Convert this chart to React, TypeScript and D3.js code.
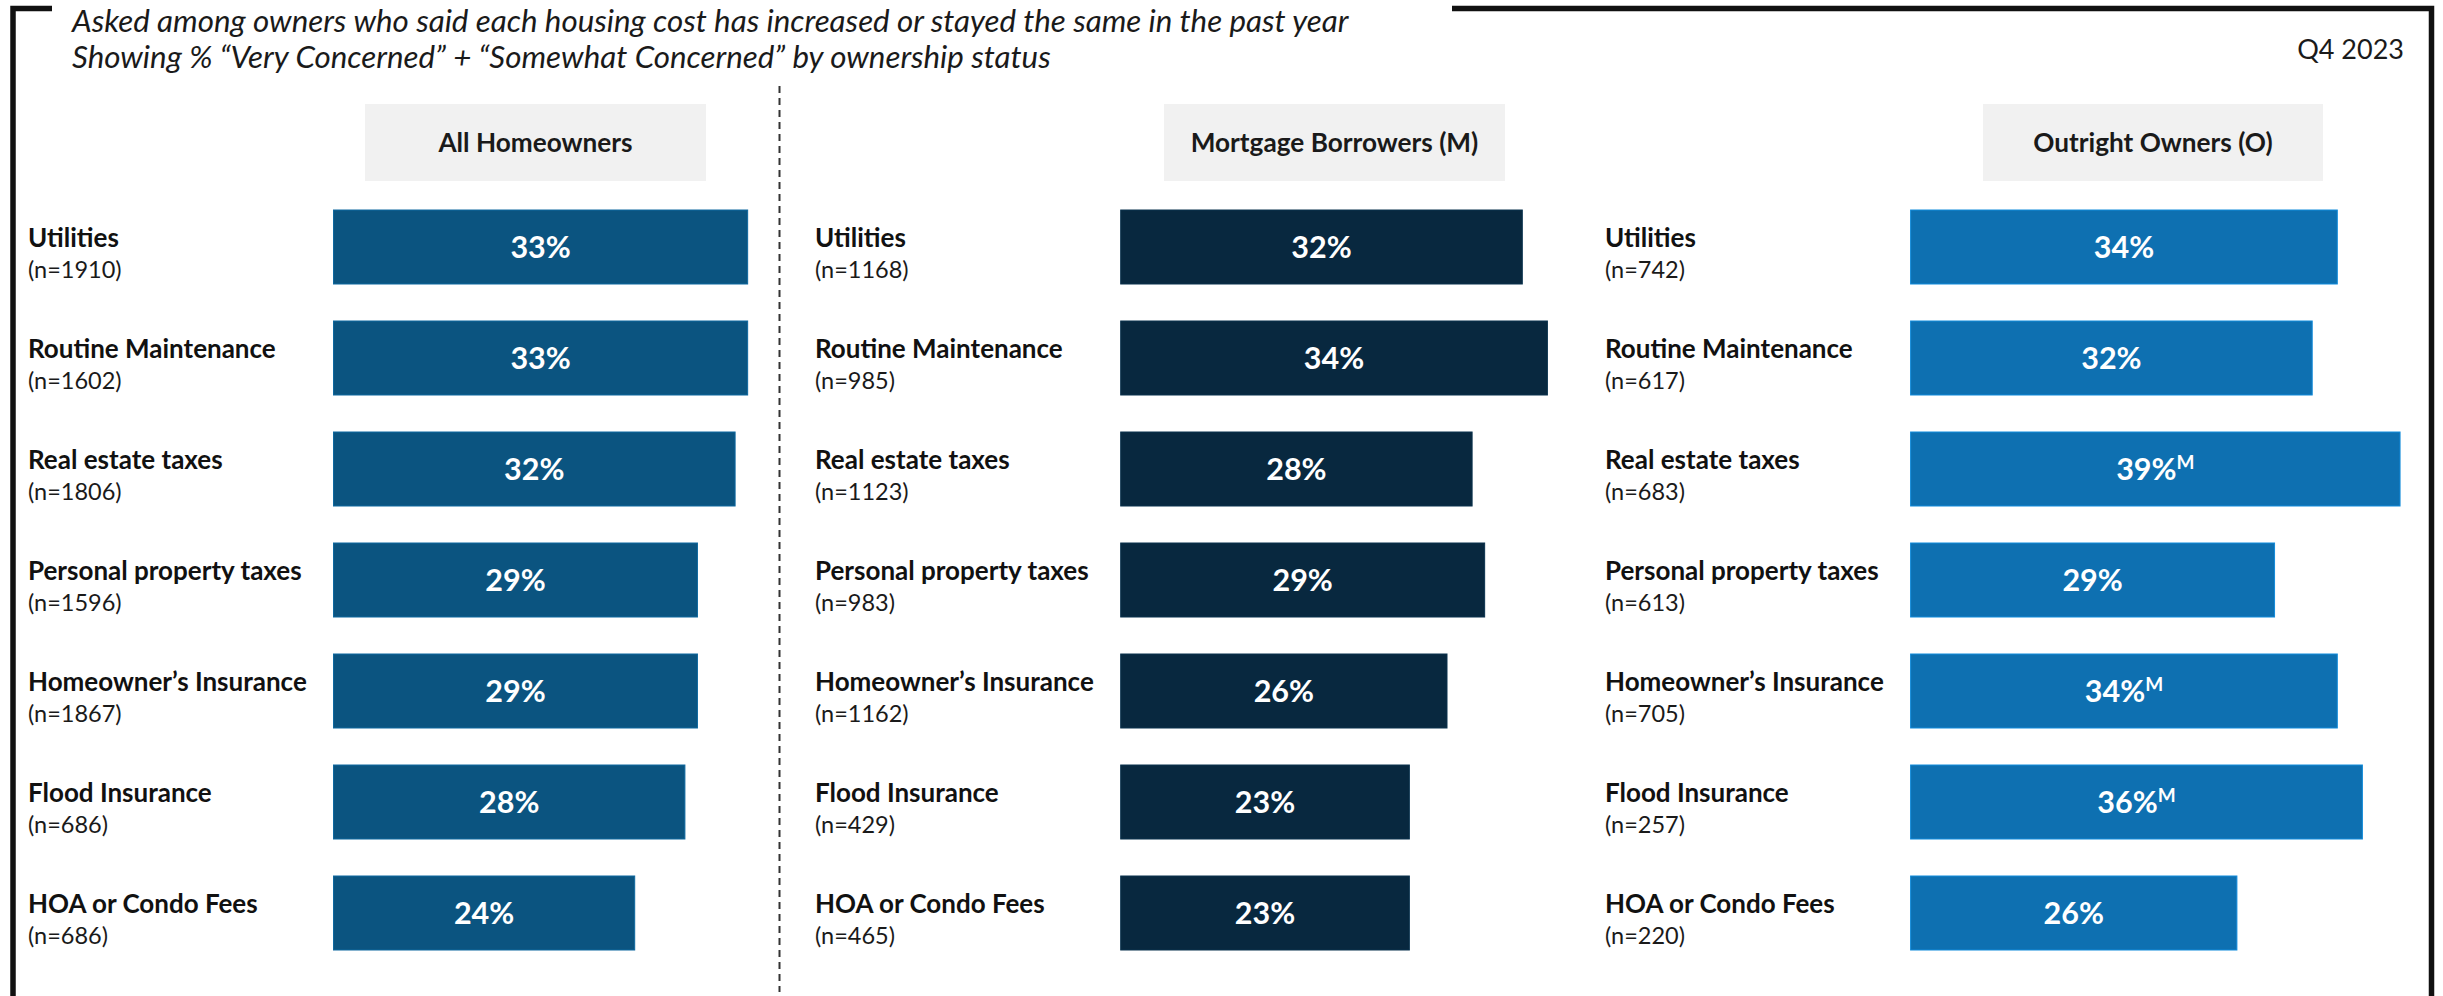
import React from "react";
import * as d3 from "d3";

const categories = [
  "Utilities",
  "Routine Maintenance",
  "Real estate taxes",
  "Personal property taxes",
  "Homeowner\u2019s Insurance",
  "Flood Insurance",
  "HOA or Condo Fees",
];

const panelTitles = ["All Homeowners", "Mortgage Borrowers (M)", "Outright Owners (O)"];

const allValues = [33, 33, 32, 29, 29, 28, 24];
const allN = [1910, 1602, 1806, 1596, 1867, 686, 686];

const mortgageValues = [32, 34, 28, 29, 26, 23, 23];
const mortgageN = [1168, 985, 1123, 983, 1162, 429, 465];

const outrightValues = [34, 32, 39, 29, 34, 36, 26];
const outrightN = [742, 617, 683, 613, 705, 257, 220];
const outrightSig = ["", "", "M", "", "M", "M", ""];

const titleLines = [
  "Asked among owners who said each housing cost has increased or stayed the same in the past year",
  "Showing % \u201cVery Concerned\u201d + \u201cSomewhat Concerned\u201d by ownership status",
];
const periodLabel = "Q4 2023";

const W = 2443;
const H = 996;
const FONT = "Lato, 'Noto Sans', sans-serif";

const panels = [
  { title: panelTitles[0], values: allValues, ns: allN, sig: allValues.map(() => ""), color: "#0b5480", labelX: 28, barX: 333.5, boxX: 365, boxW: 341 },
  { title: panelTitles[1], values: mortgageValues, ns: mortgageN, sig: mortgageValues.map(() => ""), color: "#08283f", labelX: 815, barX: 1120.7, boxX: 1164, boxW: 341 },
  { title: panelTitles[2], values: outrightValues, ns: outrightN, sig: outrightSig, color: "#0e70b1", labelX: 1605, barX: 1910.6, boxX: 1983, boxW: 340 },
];

export default function App() {
  const x = d3.scaleLinear().domain([0, 100]).range([0, 1255]);
  const y = d3
    .scaleBand<string>()
    .domain(categories)
    .range([210, 950])
    .paddingInner(1 / 3)
    .paddingOuter(0);
  const bw = y.bandwidth();

  return (
    <svg
      width={W}
      height={H}
      viewBox={`0 0 ${W} ${H}`}
      style={{ position: "absolute", left: 0, top: 0, background: "#fff" }}
    >
      <rect x={0} y={0} width={W} height={H} fill="#ffffff" />
      {/* frame */}
      <path d="M52 8.5 H13 V1000" fill="none" stroke="#111" strokeWidth={5.5} />
      <path d="M1452 8.5 H2431.5 V1000" fill="none" stroke="#111" strokeWidth={5.5} />

      {/* title */}
      {titleLines.map((t, i) => (
        <text
          key={i}
          x={72}
          y={32 + i * 36}
          fontFamily={FONT}
          fontStyle="italic"
          fontSize={31.3}
          fill="#1a1a1a"
        >
          {t}
        </text>
      ))}
      <text x={2404} y={59} textAnchor="end" fontFamily={FONT} fontSize={27} fill="#1a1a1a">
        {periodLabel}
      </text>

      {/* dashed divider */}
      <line x1={779.5} x2={779.5} y1={86} y2={992} stroke="#333" strokeWidth={2} strokeDasharray="7 5" />

      {panels.map((p, pi) => (
        <g key={pi}>
          <rect x={p.boxX} y={104} width={p.boxW} height={77} fill="#f1f1f1" />
          <text
            x={p.boxX + p.boxW / 2}
            y={151.5}
            textAnchor="middle"
            fontFamily={FONT}
            fontWeight={700}
            fontSize={26.2}
            fill="#1a1a1a"
          >
            {p.title}
          </text>
          {categories.map((c, i) => {
            const top = y(c) as number;
            const w = x(p.values[i]);
            return (
              <g key={c}>
                <text x={p.labelX} y={top + 37} fontFamily={FONT} fontWeight={700} fontSize={26} fill="#111">
                  {c}
                </text>
                <text x={p.labelX} y={top + 67.5} fontFamily={FONT} fontSize={23.5} fill="#1a1a1a">
                  {`(n=${p.ns[i]})`}
                </text>
                <rect
                  x={p.barX}
                  y={top}
                  width={w}
                  height={bw}
                  fill={p.color}
                  stroke={d3.color(p.color)!.brighter(0.6).formatHex()}
                  strokeWidth={1}
                />
                <text
                  x={p.barX + w / 2}
                  y={top + bw / 2 + 11}
                  textAnchor="middle"
                  fontFamily={FONT}
                  fontWeight={700}
                  fontSize={30.5}
                  fill="#ffffff"
                >
                  {`${p.values[i]}%`}
                  {p.sig[i] ? (
                    <tspan fontSize={19} dy={-11}>
                      {p.sig[i]}
                    </tspan>
                  ) : null}
                </text>
              </g>
            );
          })}
        </g>
      ))}
    </svg>
  );
}
